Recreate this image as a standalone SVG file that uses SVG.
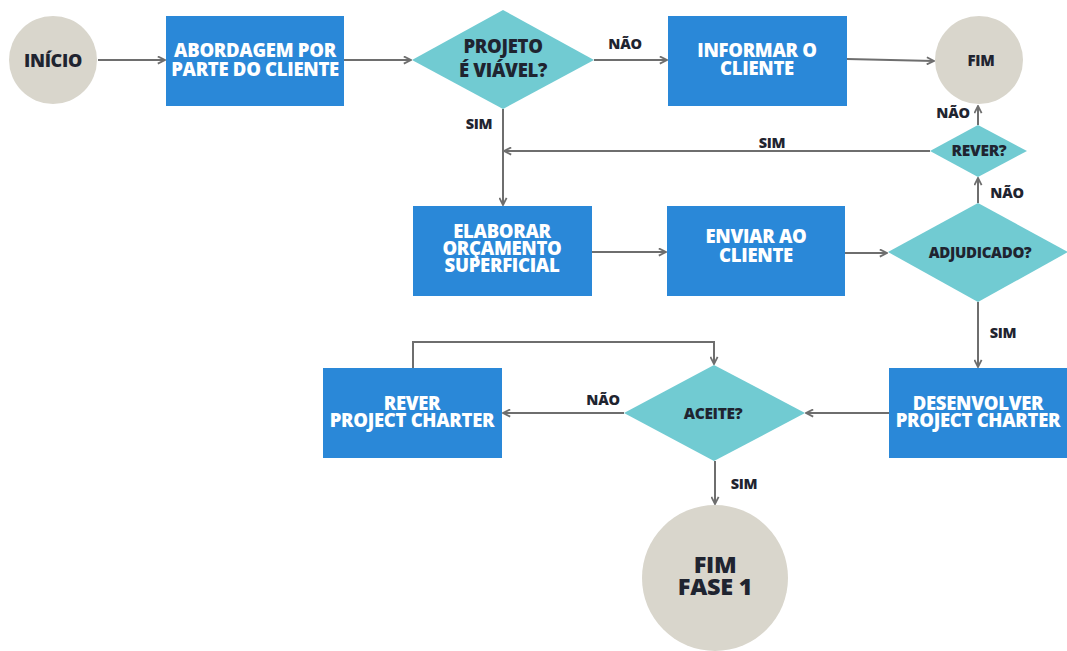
<svg xmlns="http://www.w3.org/2000/svg" width="1067" height="651" viewBox="0 0 1067 651">
<style>
.box{fill:#2a88d8}
.dia{fill:#71cbd2}
.circ{fill:#d9d6cc}
.wt{fill:#ffffff;font-family:"Open Sans","Liberation Sans",sans-serif;font-weight:800;font-size:18.5px;letter-spacing:-0.3px;text-anchor:middle}
.dk{fill:#1f2430;font-family:"Open Sans","Liberation Sans",sans-serif;font-weight:800;text-anchor:middle;letter-spacing:-0.3px}
.lbl{fill:#1f2430;font-family:"Open Sans","Liberation Sans",sans-serif;font-weight:800;font-size:14.5px;text-anchor:middle;letter-spacing:-0.3px}
.ln{fill:none;stroke:#6e6e6e;stroke-width:2}
.arr{marker-end:url(#ah)}
</style>
<defs>
<marker id="ah" viewBox="0 0 10 10" refX="9" refY="5" markerWidth="9" markerHeight="9" markerUnits="userSpaceOnUse" orient="auto">
<path d="M1,1 L9,5 L1,9" fill="none" stroke="#6e6e6e" stroke-width="2"/>
</marker>
</defs>
<rect width="1067" height="651" fill="#ffffff"/>

<g id="connectors">
<line class="ln arr" x1="98" y1="60" x2="165" y2="60"/>
<line class="ln arr" x1="344" y1="60" x2="411" y2="60"/>
<line class="ln arr" x1="594" y1="60" x2="667" y2="60"/>
<line class="ln arr" x1="847" y1="59" x2="934" y2="61"/>
<line class="ln arr" x1="978" y1="125" x2="978" y2="106"/>
<line class="ln arr" x1="930" y1="151" x2="504" y2="151"/>
<line class="ln arr" x1="503" y1="109" x2="503" y2="205"/>
<line class="ln arr" x1="592" y1="252" x2="666" y2="252"/>
<line class="ln arr" x1="845" y1="253" x2="887" y2="253"/>
<line class="ln arr" x1="978" y1="203" x2="978" y2="178"/>
<line class="ln arr" x1="978" y1="302" x2="978" y2="367"/>
<line class="ln arr" x1="889" y1="413" x2="806" y2="413"/>
<line class="ln arr" x1="624" y1="413" x2="503" y2="413"/>
<polyline class="ln arr" points="413,368 413,342 714,342 714,364"/>
<line class="ln arr" x1="715" y1="461" x2="715" y2="504"/>
</g>

<g id="labels">
<text class="lbl" x="625" y="49">NÃO</text>
<text class="lbl" x="479" y="129">SIM</text>
<text class="lbl" x="772" y="148">SIM</text>
<text class="lbl" x="953" y="118">NÃO</text>
<text class="lbl" x="1007" y="198">NÃO</text>
<text class="lbl" x="1003" y="338">SIM</text>
<text class="lbl" x="603" y="405">NÃO</text>
<text class="lbl" x="744" y="489">SIM</text>
</g>

<g id="inicio">
<circle class="circ" cx="53" cy="60" r="44"/>
<text class="dk" x="53" y="67" font-size="18">INÍCIO</text>
</g>

<g id="abordagem">
<rect class="box" x="166" y="16" width="178" height="90"/>
<text class="wt"><tspan x="255" y="57">ABORDAGEM POR</tspan><tspan x="255" y="76">PARTE DO CLIENTE</tspan></text>
</g>

<g id="projeto-viavel">
<polygon class="dia" points="412,60 503,10 594,60 503,109"/>
<text class="dk" font-size="18.5"><tspan x="503" y="53">PROJETO</tspan><tspan x="503" y="77">É VIÁVEL?</tspan></text>
</g>

<g id="informar">
<rect class="box" x="668" y="16" width="179" height="90"/>
<text class="wt"><tspan x="757" y="57">INFORMAR O</tspan><tspan x="757" y="75">CLIENTE</tspan></text>
</g>

<g id="fim">
<circle class="circ" cx="979" cy="60" r="44"/>
<text class="dk" x="981" y="66" font-size="15">FIM</text>
</g>

<g id="rever">
<polygon class="dia" points="930,151 978,125 1027,151 978,177"/>
<text class="dk" x="979" y="156" font-size="15.5">REVER?</text>
</g>

<g id="elaborar">
<rect class="box" x="413" y="206" width="179" height="90"/>
<text class="wt"><tspan x="502" y="238">ELABORAR</tspan><tspan x="502" y="255">ORÇAMENTO</tspan><tspan x="502" y="272">SUPERFICIAL</tspan></text>
</g>

<g id="enviar">
<rect class="box" x="667" y="206" width="178" height="90"/>
<text class="wt"><tspan x="756" y="243">ENVIAR AO</tspan><tspan x="756" y="262">CLIENTE</tspan></text>
</g>

<g id="adjudicado">
<polygon class="dia" points="888,252 978,203 1068,252 978,302"/>
<text class="dk" x="980" y="258" font-size="15">ADJUDICADO?</text>
</g>

<g id="desenvolver">
<rect class="box" x="889" y="368" width="178" height="90"/>
<text class="wt"><tspan x="978" y="410">DESENVOLVER</tspan><tspan x="978" y="427">PROJECT CHARTER</tspan></text>
</g>

<g id="aceite">
<polygon class="dia" points="624,413 714,365 805,413 714,461"/>
<text class="dk" x="713" y="419" font-size="15.5">ACEITE?</text>
</g>

<g id="rever-pc">
<rect class="box" x="323" y="368" width="179" height="90"/>
<text class="wt"><tspan x="412" y="410">REVER</tspan><tspan x="412" y="427">PROJECT CHARTER</tspan></text>
</g>

<g id="fim-fase1">
<circle class="circ" cx="715" cy="578" r="73"/>
<text class="dk" font-size="23.5"><tspan x="715" y="573">FIM</tspan><tspan x="715" y="595">FASE 1</tspan></text>
</g>
</svg>
